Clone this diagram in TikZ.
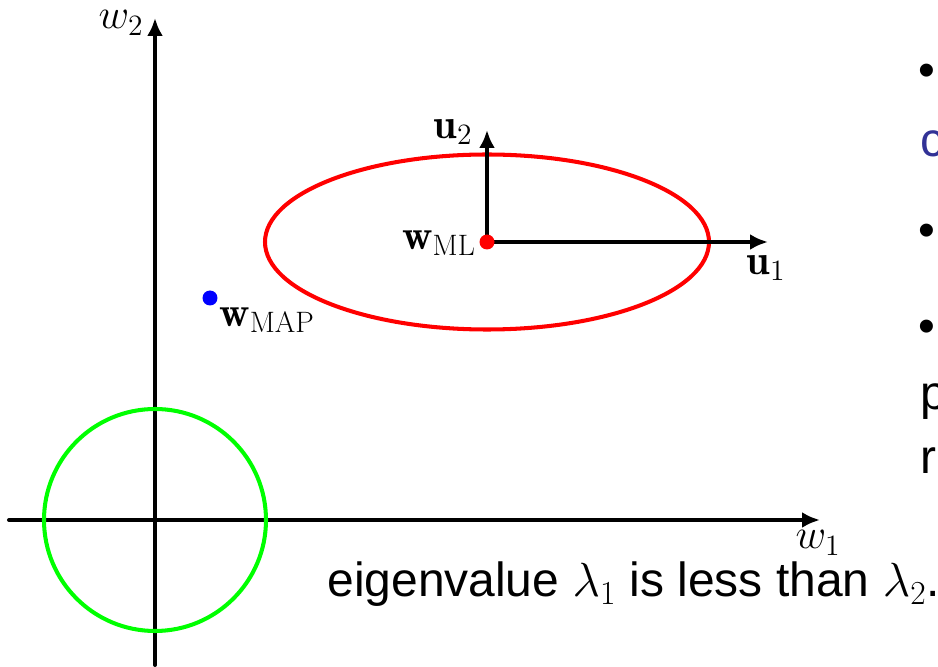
\RequirePackage{fix-cm}
\documentclass[tikz,border=0pt]{standalone}
\usepackage{fontspec}
\newfontfamily\slidefont{Liberation Sans}
\usetikzlibrary{arrows.meta, positioning, calc}
\definecolor{slideblue}{RGB}{50,50,150}

\begin{document}
\begin{tikzpicture}[
  x=0.02cm, y=0.02cm,
  >={Latex[length=3.6mm, width=3.2mm]},
  axis/.style={line width=2.3pt, black, line cap=round},
  vec/.style={line width=2.3pt, black},
  contour/.style={line width=2.3pt},
  lbl/.style={inner sep=0pt, font=\fontsize{24}{28}\selectfont},
  dot/.style={circle, inner sep=0pt, minimum size=0.3cm},
  slidetxt/.style={inner sep=0pt, anchor=base west, font=\slidefont\fontsize{27.3}{32}\selectfont}
]
\useasboundingbox (0,0) rectangle (938,667);

% Axes
\coordinate (o) at (155,147);
\coordinate (xl) at (9,147);
\coordinate (xr) at (820,147);
\coordinate (yb) at (155,2);
\coordinate (yt) at (155,649);
\draw[axis, ->] (xl) -- (xr);
\draw[axis, ->] (yb) -- (yt);
\node[lbl] (w1) at (818,124) {$w_1$};
\node[lbl] (w2) at (121,644) {$w_2$};

% Prior contour
\draw[contour, green] (o) circle (111);

% Likelihood contour and eigenvectors
\coordinate (ml) at (487,425);
\draw[contour, red] (ml) ellipse [x radius=222, y radius=87.5];
\coordinate (u1tip) at (768,425);
\coordinate (u2tip) at (487,537);
\draw[vec, ->] (ml) -- (u1tip);
\draw[vec, ->] (ml) -- (u2tip);
\node[dot, fill=red] (wml) at (ml) {};
\node[lbl, anchor=east] (wmllbl) at (476,424) {$\mathbf{w}_{\mathrm{ML}}$};
\node[lbl] (u1) at (766,399) {$\mathbf{u}_1$};
\node[lbl] (u2) at (453,535) {$\mathbf{u}_2$};

% Posterior mode
\node[dot, fill=blue] (wmap) at (210,369) {};
\node[lbl, anchor=west] (wmaplbl) at (219,347) {$\mathbf{w}_{\mathrm{MAP}}$};

% Slide text
\node[slidetxt] (cap) at (327,70) {eigenvalue $\lambda_1$ is less than $\lambda_2$.};
\node[slidetxt, anchor=west] (b1) at (918,592) {\textbullet};
\node[slidetxt, text=slideblue] (t1) at (920,510) {c};
\node[slidetxt, anchor=west] (b2) at (918,432) {\textbullet};
\node[slidetxt, anchor=west] (b3) at (918,336) {\textbullet};
\node[slidetxt] (t3) at (920,257) {p};
\node[slidetxt] (t4) at (920,193) {r};

\end{tikzpicture}
\end{document}
